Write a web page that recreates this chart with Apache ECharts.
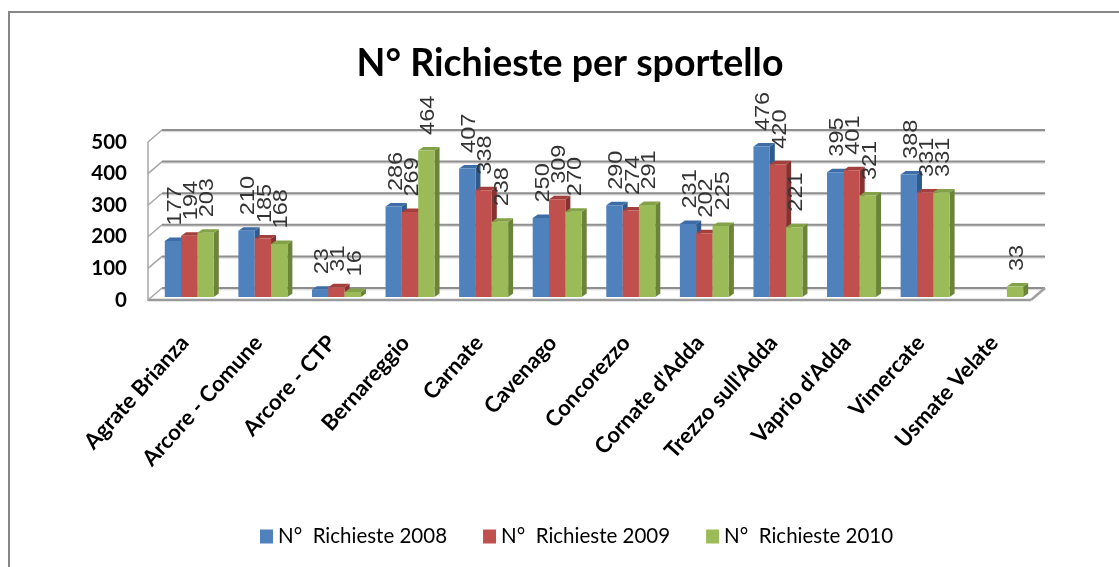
<!DOCTYPE html>
<html>
<head>
<meta charset="utf-8">
<style>
  html, body { margin: 0; padding: 0; background: #fff; }
  #chart { width: 1119px; height: 567px; }
</style>
<script src="https://cdn.jsdelivr.net/npm/echarts@6/dist/echarts.min.js"></script>
</head>
<body>
<div id="chart"></div>
<script>
const categories = ['Agrate Brianza', 'Arcore - Comune', 'Arcore - CTP', 'Bernareggio', 'Carnate', 'Cavenago',
  'Concorezzo', "Cornate d'Adda", "Trezzo sull'Adda", "Vaprio d'Adda", 'Vimercate', 'Usmate Velate'];
const values2008 = [177, 210, 23, 286, 407, 250, 290, 231, 476, 395, 388, null];
const values2009 = [194, 185, 31, 269, 338, 309, 274, 202, 420, 401, 331, null];
const values2010 = [203, 168, 16, 464, 238, 270, 291, 225, 221, 321, 331, 33];
const yTicks = [0, 100, 200, 300, 400, 500];
const seriesNames = ['N°  Richieste 2008', 'N°  Richieste 2009', 'N°  Richieste 2010'];

const colors = [
  { front: '#4f81bd', top: '#3d6da6', side: '#2f5a8e' },
  { front: '#c0504d', top: '#a33f3c', side: '#853230' },
  { front: '#9bbb59', top: '#83a247', side: '#6a853a' }
];

// piano frontale del grafico = grid, parete di fondo spostata di wallDx/wallDy
const wallDx = 14, wallDy = -12;
const barDx = 5, barDy = -3.5;   // profondita delle barre
const barLift = 3;               // le barre stanno un po' dentro il pavimento
const barRatio = 0.222;

function poly(points, fill) {
  return { type: 'polygon', shape: { points }, style: { fill, stroke: null } };
}

function renderWall(params, api) {
  const cs = params.coordSys;
  const y = api.coord([0, api.value(0)])[1];
  const line = (x1, y1, x2, y2, w, c) => ({
    type: 'line', shape: { x1, y1, x2, y2 }, style: { stroke: c, lineWidth: w }
  });
  const grey = '#8e8e8e';
  const children = [
    line(cs.x + wallDx, y + wallDy + 1.5, cs.x + cs.width + wallDx, y + wallDy + 1.5, 1.5, '#dcdcdc'),
    line(cs.x + wallDx, y + wallDy, cs.x + cs.width + wallDx, y + wallDy, 2, grey),
    line(cs.x, y, cs.x + wallDx, y + wallDy, 1.5, '#a6a6a6')
  ];
  if (api.value(0) === 0) {
    children.push(line(cs.x, y, cs.x + cs.width, y, 2.5, '#9a9a9a'));
    children.push(line(cs.x + cs.width, y, cs.x + cs.width + wallDx, y + wallDy, 2.5, '#a0a0a0'));
    children.push(line(cs.x, y + 1, cs.x, cs.y, 1.5, '#a6a6a6'));
  }
  return { type: 'group', children };
}

function makeBarRenderer(idx) {
  return function (params, api) {
    const v = api.value(1);
    if (v == null || isNaN(v)) return null;
    const c = colors[idx];
    const base = api.coord([api.value(0), 0]);
    const top = api.coord([api.value(0), v]);
    const band = api.size([1, 0])[0];
    const w = band * barRatio;
    const x0 = base[0] + 4.5 + (idx - 1.5) * w;
    const x1 = x0 + w;
    const y0 = base[1] - barLift;
    const y1 = top[1] - barLift;
    return {
      type: 'group',
      children: [
        poly([[x1, y0], [x1 + barDx, y0 + barDy], [x1 + barDx, y1 + barDy], [x1, y1]], c.side),
        poly([[x0, y1], [x1, y1], [x1 + barDx, y1 + barDy], [x0 + barDx, y1 + barDy]], c.top),
        { type: 'rect', shape: { x: x0, y: y1, width: w, height: y0 - y1 }, style: { fill: c.front } },
        {
          // testo allungato nel verso di lettura come nell'originale
          type: 'text', x: x0 + w / 2 + 2, y: y1 - 15.5, rotation: Math.PI / 2, scaleX: 1.12, z2: 100,
          style: {
            text: String(v), fill: '#333', align: 'left', verticalAlign: 'middle',
            font: '21px "Liberation Sans"'
          }
        }
      ]
    };
  };
}

const barSeries = [values2008, values2009, values2010].map((vals, i) => ({
  name: seriesNames[i],
  type: 'custom',
  coordinateSystem: 'cartesian2d',
  z: 3,
  itemStyle: { color: colors[i].front },
  renderItem: makeBarRenderer(i),
  encode: { x: 0, y: 1 },
  data: vals.map((v, k) => [k, v])
}));

const chart = echarts.init(document.getElementById('chart'), null, { renderer: 'canvas' });
chart.setOption({
  animation: false,
  backgroundColor: '#fff',
  title: {
    text: 'N° Richieste per sportello',
    left: 565, top: 40, textAlign: 'center',
    textStyle: { fontFamily: 'Lato', fontWeight: 'bold', fontSize: 37.5, color: '#000' }
  },
  legend: {
    data: seriesNames,
    left: 260, top: 526, padding: 0,
    icon: 'rect', itemWidth: 13, itemHeight: 14, itemGap: 36,
    textStyle: { fontFamily: 'Lato', fontSize: 20.5, color: '#000' }
  },
  grid: { left: 148, top: 142, width: 883, height: 158 },
  xAxis: {
    type: 'category', data: categories,
    axisLine: { show: false }, axisTick: { show: false },
    axisLabel: {
      interval: 0, rotate: 48, margin: 39,
      fontFamily: 'Lato', fontWeight: 'bold', fontSize: 22, color: '#000'
    }
  },
  yAxis: {
    type: 'value', min: 0, max: 500, interval: 100,
    axisLine: { show: false }, axisTick: { show: false }, splitLine: { show: false },
    axisLabel: { margin: 21, fontFamily: 'Lato', fontWeight: 'bold', fontSize: 20.5, color: '#000', padding: [7, 0, 0, 0] }
  },
  graphic: [
    { type: 'polyline', silent: true, z: 0, shape: { points: [[9, 567], [9, 12], [1119, 12]] },
      style: { stroke: '#868686', lineWidth: 2, fill: null } }
  ],
  series: [
    {
      type: 'custom', coordinateSystem: 'cartesian2d', z: 1, silent: true,
      renderItem: renderWall, encode: { y: 0 },
      data: yTicks.map(t => [t])
    }
  ].concat(barSeries)
});
</script>
</body>
</html>
